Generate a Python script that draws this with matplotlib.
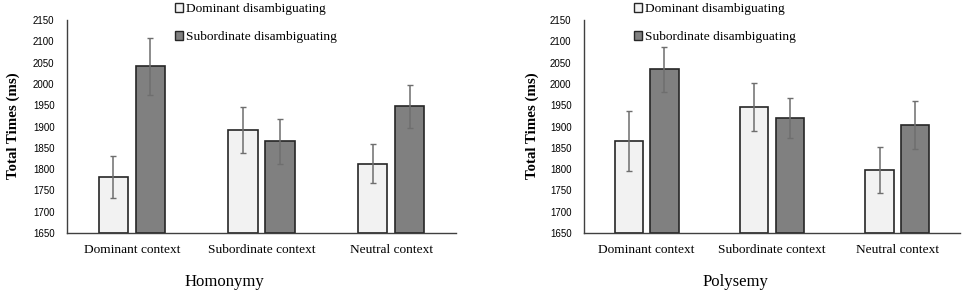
import numpy as np
import matplotlib
matplotlib.use("Agg")
import matplotlib.pyplot as plt

contexts = ["Dominant context", "Subordinate context", "Neutral context"]
series_names = ["Dominant disambiguating", "Subordinate disambiguating"]

# Homonymy
hom_dom = [1781, 1891, 1813]
hom_sub = [2041, 1865, 1947]
hom_dom_err = [49, 54, 46]
hom_sub_err = [67, 53, 50]

# Polysemy
pol_dom = [1866, 1945, 1798]
pol_sub = [2034, 1920, 1904]
pol_dom_err = [70, 56, 55]
pol_sub_err = [53, 48, 56]

panel_titles = ["Homonymy", "Polysemy"]

serif = "Liberation Serif"
sans = "Liberation Sans"

fig = plt.figure(figsize=(9.64, 2.92), dpi=100)
W, H = 964.0, 292.0

# axes boxes in pixels: left, right, top, bottom
boxes = [(67, 456, 20, 233), (584, 960, 20, 233)]
title_x = [224, 735]
ylabel_x = [13, 532]
legend_x = [175, 634]

panels = [
    (hom_dom, hom_sub, hom_dom_err, hom_sub_err),
    (pol_dom, pol_sub, pol_dom_err, pol_sub_err),
]

for i, (dom, sub, dom_err, sub_err) in enumerate(panels):
    l, r, t, b = boxes[i]
    ax = fig.add_axes([l / W, 1 - b / H, (r - l) / W, (b - t) / H])
    x = np.arange(len(contexts))
    w = 0.227
    off = 0.142
    ekw = dict(ecolor="#6e6e6e", elinewidth=1.1, capsize=2.5, capthick=1.0)
    b1 = ax.bar(x - off, np.array(dom) - 1650, w, bottom=1650, color="#f2f2f2",
                edgecolor="#262626", linewidth=1.2, yerr=dom_err, error_kw=ekw,
                label=series_names[0])
    b2 = ax.bar(x + off, np.array(sub) - 1650, w, bottom=1650, color="#808080",
                edgecolor="#262626", linewidth=1.2, yerr=sub_err, error_kw=ekw,
                label=series_names[1])
    ax.set_xlim(-0.5, 2.5)
    ax.set_ylim(1650, 2150)
    ax.set_yticks(np.arange(1650, 2151, 50))
    ax.set_xticks(x)
    ax.set_xticklabels(contexts, fontfamily=serif, fontsize=9.6)
    for lab in ax.get_yticklabels():
        lab.set_fontfamily(sans)
        lab.set_fontsize(7)
    ax.tick_params(axis="both", length=0)
    ax.tick_params(axis="y", pad=9)
    ax.tick_params(axis="x", pad=8)
    for s in ["top", "right"]:
        ax.spines[s].set_visible(False)
    for s in ["left", "bottom"]:
        ax.spines[s].set_color("#404040")
        ax.spines[s].set_linewidth(1.0)
    ax.patch.set_alpha(0)

    fig.text(ylabel_x[i] / W, 1 - 126 / H, "Total Times (ms)", rotation=90,
             ha="center", va="center", fontfamily=serif, fontweight="bold",
             fontsize=10.7)
    fig.text(title_x[i] / W, 1 - 282 / H, panel_titles[i], ha="center",
             va="center", fontfamily=serif, fontsize=12)

    leg = fig.legend(handles=[b1, b2], labels=series_names,
                     loc="upper left",
                     bbox_to_anchor=(legend_x[i] / W, 1 - 3 / H),
                     frameon=False, prop={"family": serif, "size": 9.6},
                     handlelength=0.6, handleheight=0.6, handletextpad=0.2,
                     labelspacing=1.2, borderaxespad=0, borderpad=0)
    for h in leg.legend_handles:
        h.set_linewidth(1.0)

fig.savefig("out.png", dpi=100)
